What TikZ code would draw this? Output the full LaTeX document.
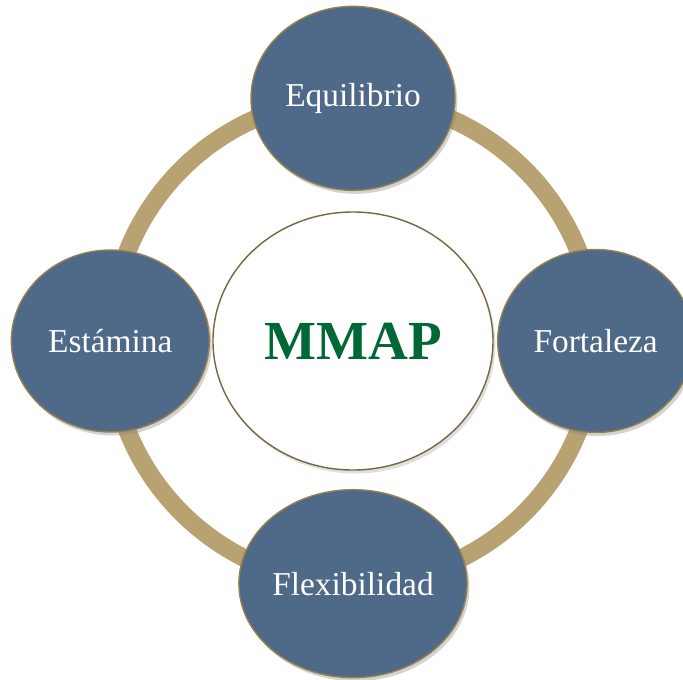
\documentclass[tikz,border=0pt]{standalone}
\usepackage{fontspec}
\setmainfont{Liberation Serif}
\usepackage{tikz}
\usetikzlibrary{positioning,shapes.geometric,shadows,backgrounds}
\definecolor{ringtan}{RGB}{185,162,113}
\definecolor{nodeblue}{RGB}{79,105,137}
\definecolor{rimgold}{RGB}{150,128,78}
\definecolor{mmapgreen}{RGB}{0,104,52}

\begin{document}
\begin{tikzpicture}[node distance=7.28cm,on grid,thick,
	part node/.style={ellipse,fill=nodeblue,draw=rimgold,line width=1.2pt,inner sep=0pt,text=white,font=\fontsize{28.5}{30}\selectfont,drop shadow={opacity=0.35,shadow xshift=2pt,shadow yshift=-3pt}},
	hub node/.style={ellipse,fill=white,draw=rimgold!80!black,line width=1.2pt,inner sep=0pt,minimum width=8.4cm,minimum height=7.74cm,text=mmapgreen,font=\fontsize{47}{50}\selectfont\bfseries,drop shadow={opacity=0.25,shadow xshift=2pt,shadow yshift=-3pt}}]
	\useasboundingbox (0,0) rectangle (20.49,-20.37);
	\node[hub node] (mmap) at (10.59,-10.23) {MMAP};
	\node[part node,minimum width=6.12cm,minimum height=5.52cm] (equi) [above=of mmap] {Equilibrio};
	\node[part node,minimum width=5.94cm,minimum height=5.46cm] (esta) [left=of mmap] {Estámina};
	\node[part node,minimum width=5.88cm,minimum height=5.49cm] (fort) [right=of mmap] {Fortaleza};
	\node[part node,minimum width=6.84cm,minimum height=5.64cm] (flex) [below=of mmap] {Flexibilidad};

	% ring behind the four parts
	\begin{scope}[on background layer]
	\path[draw=ringtan,line width=0.54cm]
		(equi.center) arc[start angle=90,end angle=180,radius=7.28cm]
		(esta.center) arc[start angle=180,end angle=270,radius=7.28cm]
		(flex.center) arc[start angle=270,end angle=360,radius=7.28cm]
		(fort.center) arc[start angle=0,end angle=90,radius=7.28cm];
	\end{scope}
\end{tikzpicture}
\end{document}
